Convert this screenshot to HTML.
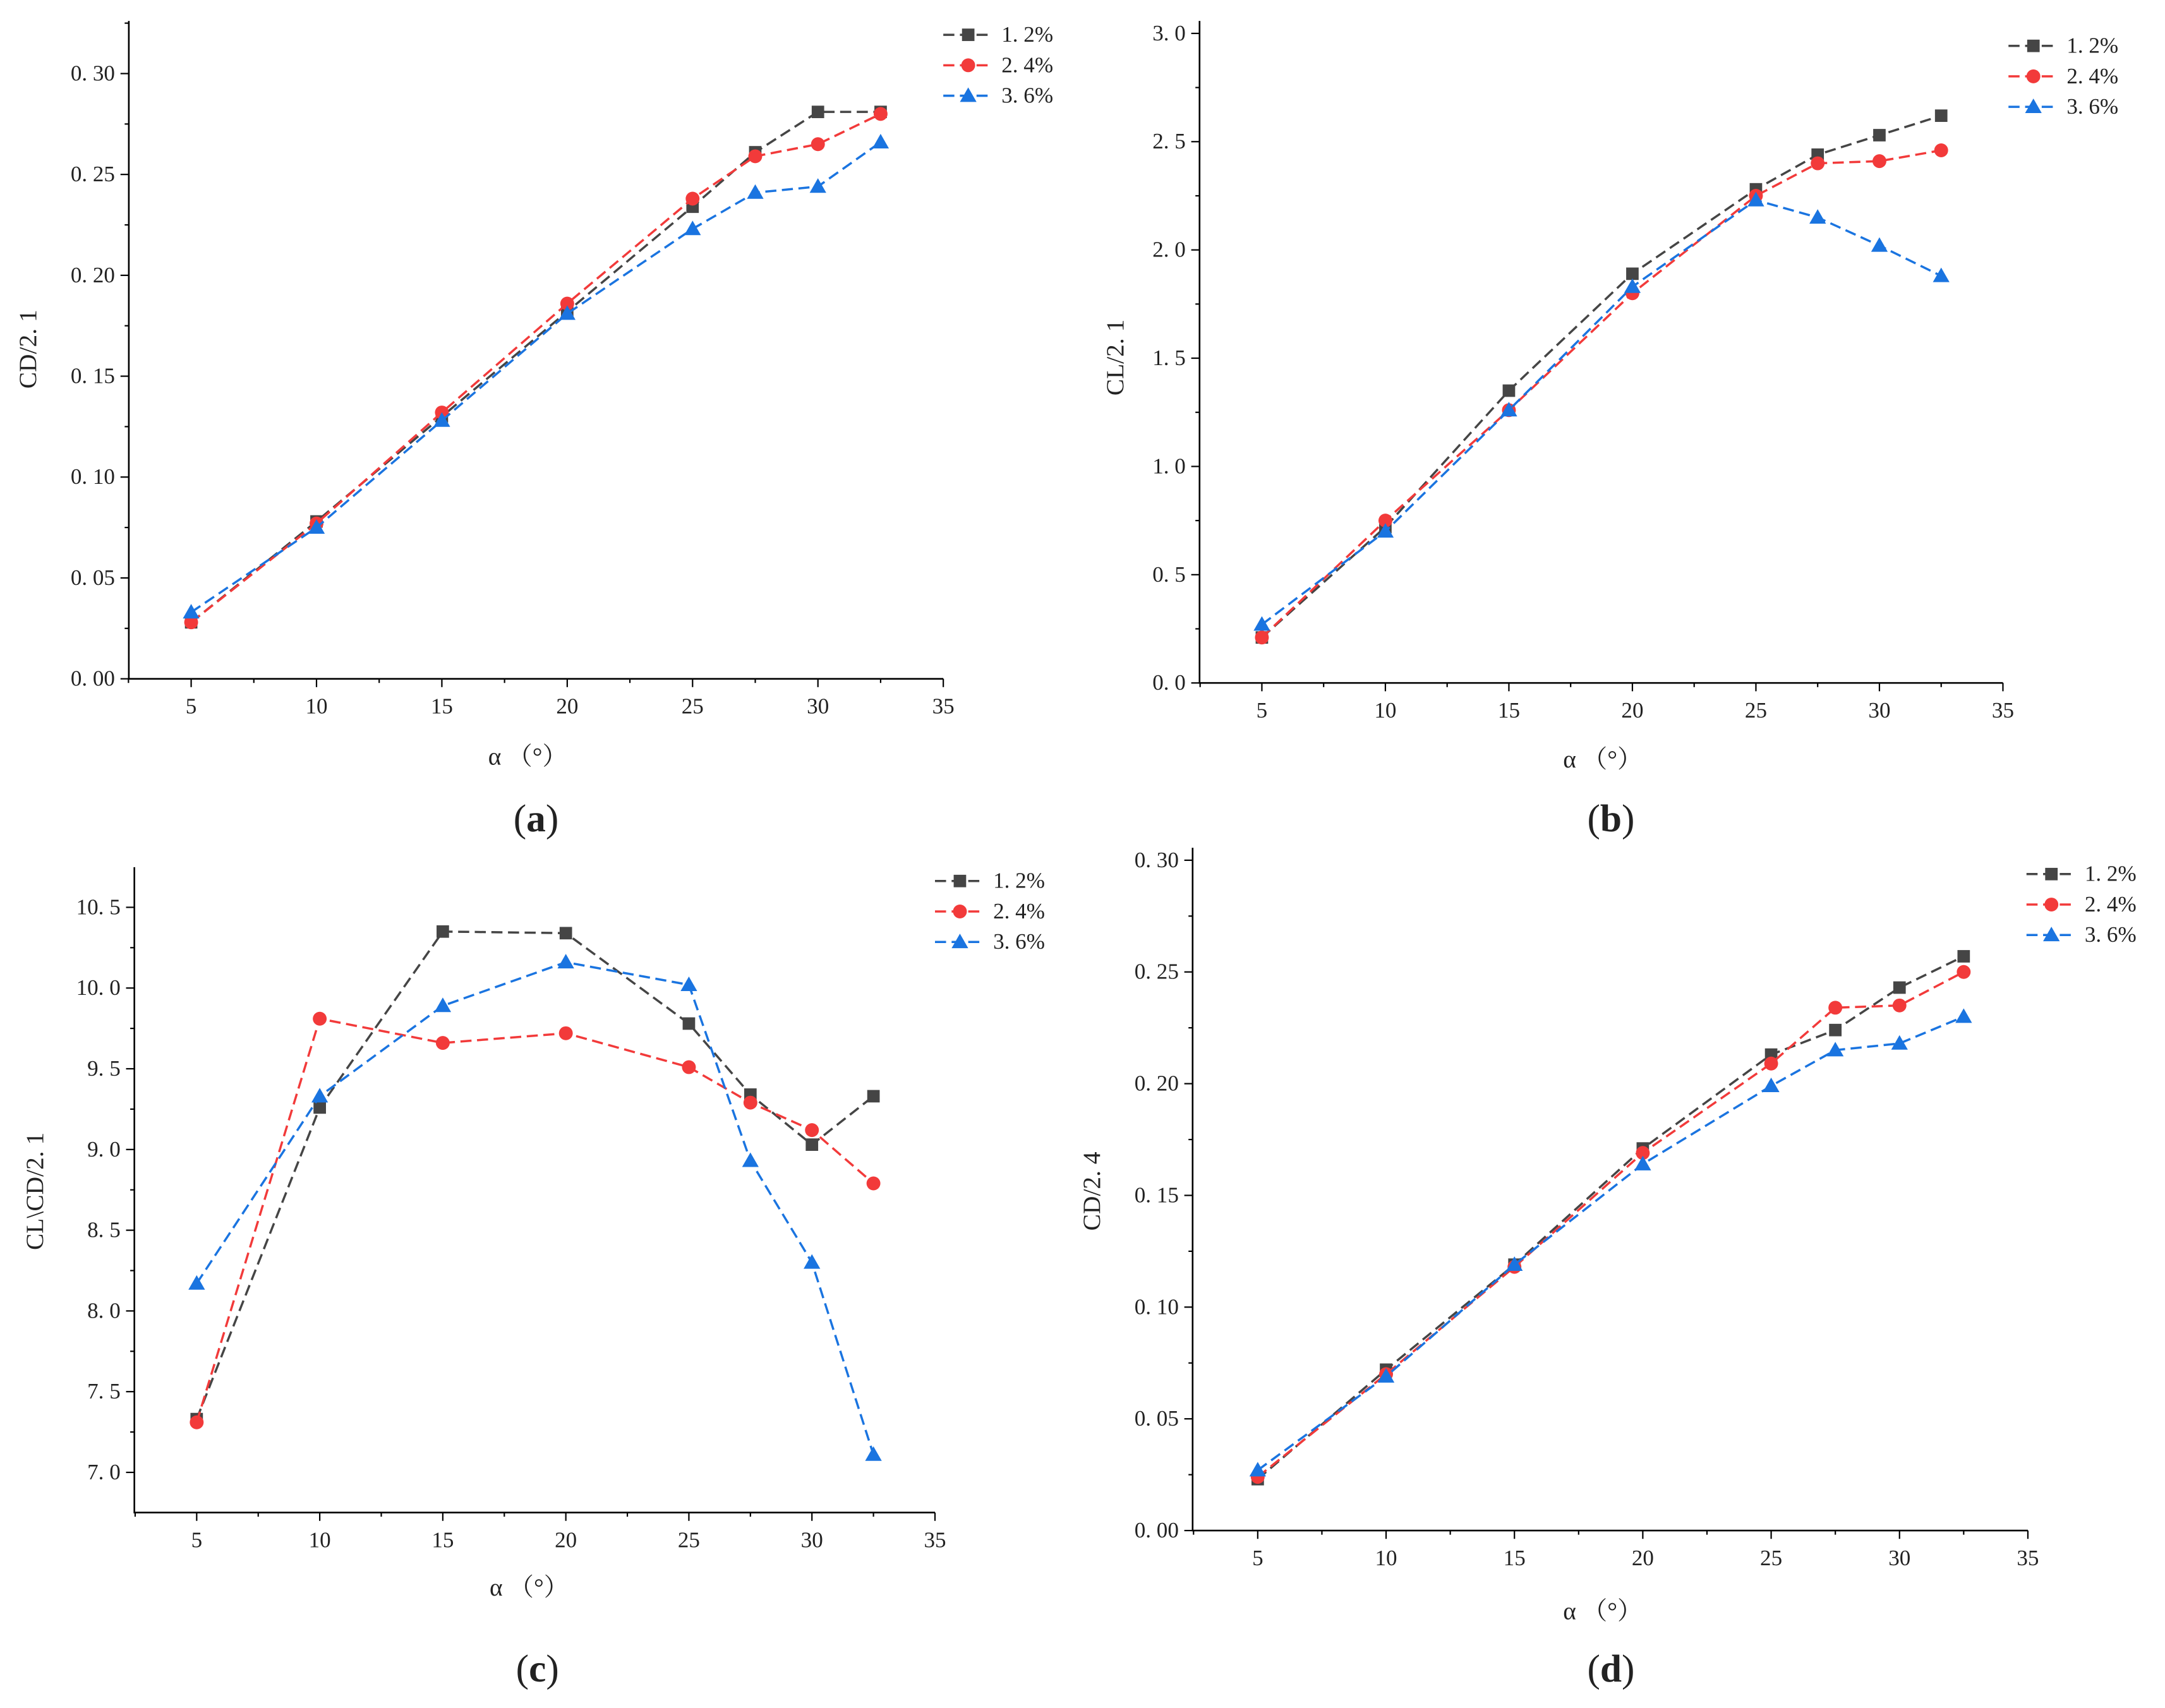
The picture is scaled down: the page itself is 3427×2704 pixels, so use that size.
<!DOCTYPE html>
<html><head><meta charset="utf-8">
<style>
html,body{margin:0;padding:0;background:#fff;}
svg{display:block;}
text{font-family:"Liberation Serif","Noto Serif CJK SC",serif;fill:#222;}
</style></head>
<body>
<svg id="fig" width="3427" height="2704" viewBox="0 0 1563 1233" xmlns="http://www.w3.org/2000/svg"></svg>
<script>
const alphaValues = [5, 10, 15, 20, 25, 27.5, 30, 32.5];
const seriesNames = ["1. 2%", "2. 4%", "3. 6%"];
const aCD12 = [0.028,0.078,0.130,0.182,0.234,0.261,0.281,0.281];
const aCD24 = [0.028,0.077,0.132,0.186,0.238,0.259,0.265,0.280];
const aCD36 = [0.033,0.075,0.128,0.181,0.223,0.241,0.244,0.266];
const bCL12 = [0.21,0.72,1.35,1.89,2.28,2.44,2.53,2.62];
const bCL24 = [0.21,0.75,1.26,1.80,2.25,2.40,2.41,2.46];
const bCL36 = [0.27,0.70,1.26,1.83,2.23,2.15,2.02,1.88];
const cLD12 = [7.33,9.26,10.35,10.34,9.78,9.34,9.03,9.33];
const cLD24 = [7.31,9.81,9.66,9.72,9.51,9.29,9.12,8.79];
const cLD36 = [8.17,9.33,9.89,10.16,10.02,8.93,8.30,7.11];
const dCD12 = [0.023,0.072,0.119,0.171,0.213,0.224,0.243,0.257];
const dCD24 = [0.024,0.070,0.118,0.169,0.209,0.234,0.235,0.250];
const dCD36 = [0.027,0.069,0.119,0.164,0.199,0.215,0.218,0.230];
const xTicks = [5,10,15,20,25,30,35];
const aYTicks = [0,0.05,0.10,0.15,0.20,0.25,0.30];
const bYTicks = [0,0.5,1.0,1.5,2.0,2.5,3.0];
const cYTicks = [7.0,7.5,8.0,8.5,9.0,9.5,10.0,10.5];
const dYTicks = [0,0.05,0.10,0.15,0.20,0.25,0.30];

const NS="http://www.w3.org/2000/svg";
const svg=document.getElementById('fig');
const colors=["#454545","#f23a3a","#1a74e0"];
function mk(tag,attrs,parent){const e=document.createElementNS(NS,tag);for(const k in attrs)e.setAttribute(k,attrs[k]);(parent||svg).appendChild(e);return e;}

function panel(p){
  const g=mk('g',{});
  
  
  const xs=v=>p.x5+(v-5)*(p.x35-p.x5)/30;
  const ys=v=>p.y0+(v-p.yt[0])*(p.y1-p.y0)/(p.yt[p.yt.length-1]-p.yt[0]);
  const ax=mk('path',{d:`M${p.ax},${p.top} L${p.ax},${p.bot} L${xs(35)},${p.bot}`,stroke:'#000','stroke-width':1.2,fill:'none'},g);
  
  
  for(let v=2.5;v<=35;v+=2.5){
    const major=xTicks.includes(v);
    mk('line',{x1:xs(v),x2:xs(v),y1:p.bot,y2:p.bot+(major?6:3),stroke:'#000','stroke-width':1},g);
  }
  xTicks.forEach(v=>{const t=mk('text',{x:xs(v),y:p.bot+25,'text-anchor':'middle','font-size':16},g);t.textContent=v;
    });
  const step=p.yt[1]-p.yt[0];
  p.yt.forEach((v,i)=>{
    mk('line',{x1:p.ax,x2:p.ax-6,y1:ys(v),y2:ys(v),stroke:'#000','stroke-width':1},g);
    if(ys(v+step/2)>=p.top) mk('line',{x1:p.ax,x2:p.ax-3,y1:ys(v+step/2),y2:ys(v+step/2),stroke:'#000','stroke-width':1},g);
    if(i==0 && ys(v-step/2)<=p.bot) mk('line',{x1:p.ax,x2:p.ax-3,y1:ys(v-step/2),y2:ys(v-step/2),stroke:'#000','stroke-width':1},g);
    const t=mk('text',{x:p.ax-10,y:ys(v)+5,'text-anchor':'end','font-size':16},g);
    t.textContent=v.toFixed(p.dec).replace('.', '. ');
    
  });
  const yt=mk('text',{x:0,y:0,'text-anchor':'middle','font-size':18,transform:`translate(${p.ytx},${p.yty}) rotate(-90)`},g);
  yt.textContent=p.ytitle;
  const xt=mk('text',{x:p.xtx,y:p.xty,'text-anchor':'middle','font-size':18},g);
  xt.textContent='α （°）';
  const sl=mk('text',{x:p.xtx+6,y:p.sly,'text-anchor':'middle','font-size':28},g);
  sl.innerHTML='(<tspan font-weight="bold">'+p.id+'</tspan>)';
  
  p.series.forEach((vals,si)=>{
    const c=colors[si];
    const pts=vals.map((v,i)=>[xs(alphaValues[i]),ys(v)]);
    const l=mk('polyline',{points:pts.map(q=>q.join(',')).join(' '),fill:'none',stroke:c,'stroke-width':1.6,'stroke-dasharray':'8,4'},g);
    
    
    pts.forEach(q=>marker(g,si,q[0],q[1]));
  });
  seriesNames.forEach((n,si)=>{
    const y=p.ly+si*22;
    const le=mk('g',{},g);
    
    
    mk('line',{x1:p.lx,x2:p.lx+36,y1:y,y2:y,stroke:colors[si],'stroke-width':1.6,'stroke-dasharray':'8,4'},le);
    marker(le,si,p.lx+18,y);
    const t=mk('text',{x:p.lx+42,y:y+5,'font-size':16},le);t.textContent=n;
  });
}
function marker(g,si,x,y){
  let m;
  if(si==0) m=mk('rect',{x:x-4.5,y:y-4.5,width:9,height:9,fill:colors[0]},g);
  else if(si==1) m=mk('circle',{cx:x,cy:y,r:5,fill:colors[1]},g);
  else m=mk('polygon',{points:`${x},${y-6} ${x+6},${y+4.5} ${x-6},${y+4.5}`,fill:colors[2]},g);
  
  
}
panel({id:'a',ax:93,top:15,bot:490,x5:138,x35:681,yt:aYTicks,y0:490,y1:53,dec:2,series:[aCD12,aCD24,aCD36],
  ytitle:'CD/2. 1',ytx:26,yty:252,xtx:381,xty:552,sly:600,lx:681,ly:25});
panel({id:'b',ax:866,top:15,bot:493,x5:911,x35:1446,yt:bYTicks,y0:493,y1:24,dec:1,series:[bCL12,bCL24,bCL36],
  ytitle:'CL/2. 1',ytx:811,yty:258,xtx:1157,xty:554,sly:600,lx:1450,ly:33});
panel({id:'c',ax:97,top:626,bot:1092,x5:142,x35:675,yt:cYTicks,y0:1063,y1:655,dec:1,series:[cLD12,cLD24,cLD36],
  ytitle:'CL\\CD/2. 1',ytx:31,yty:860,xtx:382,xty:1152,sly:1214,lx:675,ly:636});
panel({id:'d',ax:861,top:612,bot:1105,x5:908,x35:1464,yt:dYTicks,y0:1105,y1:621,dec:2,series:[dCD12,dCD24,dCD36],
  ytitle:'CD/2. 4',ytx:794,yty:860,xtx:1157,xty:1169,sly:1214,lx:1463,ly:631});
</script>
</body></html>
